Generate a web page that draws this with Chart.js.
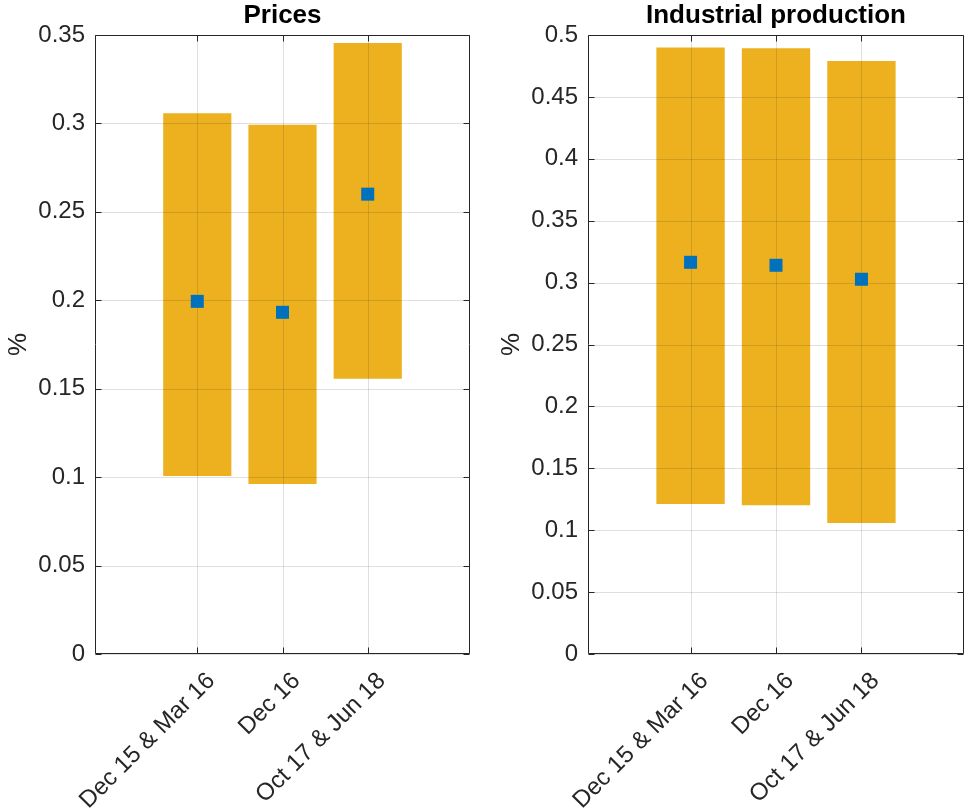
<!DOCTYPE html>
<html>
<head>
<meta charset="utf-8">
<script src="https://cdn.jsdelivr.net/npm/chart.js@4.4.0/dist/chart.umd.min.js"></script>
<style>
    html, body { margin: 0; padding: 0; background: #fff; }
    #wrap { position: relative; width: 967px; height: 809px; }
    canvas { position: absolute; top: 0; }
</style>
</head>
<body>
<div id="wrap">
    <canvas id="prices" width="473" height="809" style="left:0"></canvas>
    <canvas id="indprod" width="474" height="809" style="left:493px"></canvas>
</div>
<script>
// Survey periods, placed at x = 1, 2, 3
const periods   = ['Dec 15 & Mar 16', 'Dec 16', 'Oct 17 & Jun 18'];
const periodPos = [1, 2, 3];

// Prices: range (bar) and point estimate (marker), in %
const pricesLow  = [0.1006, 0.0961, 0.1557];
const pricesHigh = [0.3057, 0.2993, 0.3455];
const pricesMid  = [0.1994, 0.1932, 0.2600];
const pricesTicks      = [0, 0.05, 0.1, 0.15, 0.2, 0.25, 0.3, 0.35];
const pricesTickLabels = ['0', '0.05', '0.1', '0.15', '0.2', '0.25', '0.3', '0.35'];

// Industrial production
const ipLow  = [0.1212, 0.1201, 0.1058];
const ipHigh = [0.4900, 0.4893, 0.4790];
const ipMid  = [0.3164, 0.3140, 0.3027];
const ipTicks      = [0, 0.05, 0.1, 0.15, 0.2, 0.25, 0.3, 0.35, 0.4, 0.45, 0.5];
const ipTickLabels = ['0', '0.05', '0.1', '0.15', '0.2', '0.25', '0.3', '0.35', '0.4', '0.45', '0.5'];

const FONT      = "'Liberation Sans', Arial, Helvetica, sans-serif";
const INK       = '#262626';
const GRID      = 'rgba(38, 38, 38, 0.15)';
const BAR_COLOR = '#EDB120';
const MARKER    = '#0072BD';
const TICK_LEN  = 6;

// Grid drawn over the bars but under the markers, then the axes box with inward ticks.
const axesBoxPlugin = {
    id: 'axesBox',
    afterDatasetDraw(chart, args) {
        if (args.index !== 0) return;
        const { ctx, chartArea: a, scales: { x, y } } = chart;
        ctx.save();
        ctx.strokeStyle = GRID;
        ctx.lineWidth = 1;
        ctx.beginPath();
        x.ticks.forEach(t => {
            const px = Math.round(x.getPixelForValue(t.value)) + 0.5;
            ctx.moveTo(px, a.top);
            ctx.lineTo(px, a.bottom);
        });
        y.ticks.forEach(t => {
            const py = Math.round(y.getPixelForValue(t.value)) + 0.5;
            ctx.moveTo(a.left, py);
            ctx.lineTo(a.right, py);
        });
        ctx.stroke();
        ctx.restore();
    },
    afterDraw(chart) {
        const { ctx, chartArea: a, scales: { x, y } } = chart;
        const l = Math.round(a.left) + 0.5, r = Math.round(a.right) - 0.5;
        const t = Math.round(a.top) + 0.5,  b = Math.round(a.bottom) - 0.5;
        ctx.save();
        ctx.strokeStyle = INK;
        ctx.lineWidth = 1;
        ctx.beginPath();
        ctx.rect(l, t, r - l, b - t);
        x.ticks.forEach(tk => {
            const px = Math.round(x.getPixelForValue(tk.value)) + 0.5;
            ctx.moveTo(px, b); ctx.lineTo(px, b - TICK_LEN);
            ctx.moveTo(px, t); ctx.lineTo(px, t + TICK_LEN);
        });
        y.ticks.forEach(tk => {
            const py = Math.round(y.getPixelForValue(tk.value)) + 0.5;
            ctx.moveTo(l, py); ctx.lineTo(l + TICK_LEN, py);
            ctx.moveTo(r, py); ctx.lineTo(r - TICK_LEN, py);
        });
        ctx.stroke();
        ctx.restore();
    },
};

function makePanel(canvas, title, low, high, mid, yTicks, yLabels) {
    return new Chart(canvas, {
        type: 'bar',
        data: {
            datasets: [{
                type: 'bar',
                data: periodPos.map((p, i) => ({ x: p, y: [low[i], high[i]] })),
                backgroundColor: BAR_COLOR,
                borderWidth: 0,
                categoryPercentage: 0.8,
                barPercentage: 1.0,
                order: 2,
            }, {
                type: 'scatter',
                data: periodPos.map((p, i) => ({ x: p, y: mid[i] })),
                pointStyle: 'rect',
                pointRadius: 9.2,
                backgroundColor: MARKER,
                borderWidth: 0,
                order: 1,
            }],
        },
        options: {
            responsive: false,
            animation: false,
            events: [],
            layout: { autoPadding: false, padding: { left: 0, right: 3, top: 0, bottom: 0 } },
            plugins: {
                legend: { display: false },
                tooltip: { enabled: false },
                title: {
                    display: true,
                    text: title,
                    color: '#000',
                    fullSize: false,
                    font: { family: FONT, size: 26, weight: 'bold', lineHeight: 1 },
                    padding: { top: 3, bottom: 6 },
                },
            },
            scales: {
                x: {
                    type: 'linear',
                    min: -0.2,
                    max: 4.2,
                    offset: false,
                    grid: { display: false, offset: false, drawTicks: false },
                    border: { display: false },
                    afterBuildTicks: s => { s.ticks = periodPos.map(v => ({ value: v })); },
                    afterFit: s => { s.height = 155; s.paddingLeft = 0; s.paddingRight = 0; },
                    ticks: {
                        autoSkip: false,
                        maxRotation: 45,
                        minRotation: 45,
                        padding: 13,
                        labelOffset: 14,
                        color: INK,
                        font: { family: FONT, size: 24 },
                        callback: v => periods[periodPos.indexOf(v)],
                    },
                },
                y: {
                    min: yTicks[0],
                    max: yTicks[yTicks.length - 1],
                    grid: { display: false, drawTicks: false },
                    border: { display: false },
                    afterBuildTicks: s => { s.ticks = yTicks.map(v => ({ value: v })); },
                    afterFit: s => { s.width = 95; s.paddingTop = 0; s.paddingBottom = 0; },
                    ticks: {
                        padding: 10,
                        color: INK,
                        font: { family: FONT, size: 24 },
                        callback: v => yLabels[yTicks.indexOf(v)],
                    },
                    title: {
                        display: true,
                        text: '%',
                        color: INK,
                        font: { family: FONT, size: 26 },
                        padding: { top: 3, bottom: 0 },
                    },
                },
            },
        },
        plugins: [axesBoxPlugin],
    });
}

makePanel(document.getElementById('prices'), 'Prices',
          pricesLow, pricesHigh, pricesMid, pricesTicks, pricesTickLabels);
makePanel(document.getElementById('indprod'), 'Industrial production',
          ipLow, ipHigh, ipMid, ipTicks, ipTickLabels);
</script>
</body>
</html>
